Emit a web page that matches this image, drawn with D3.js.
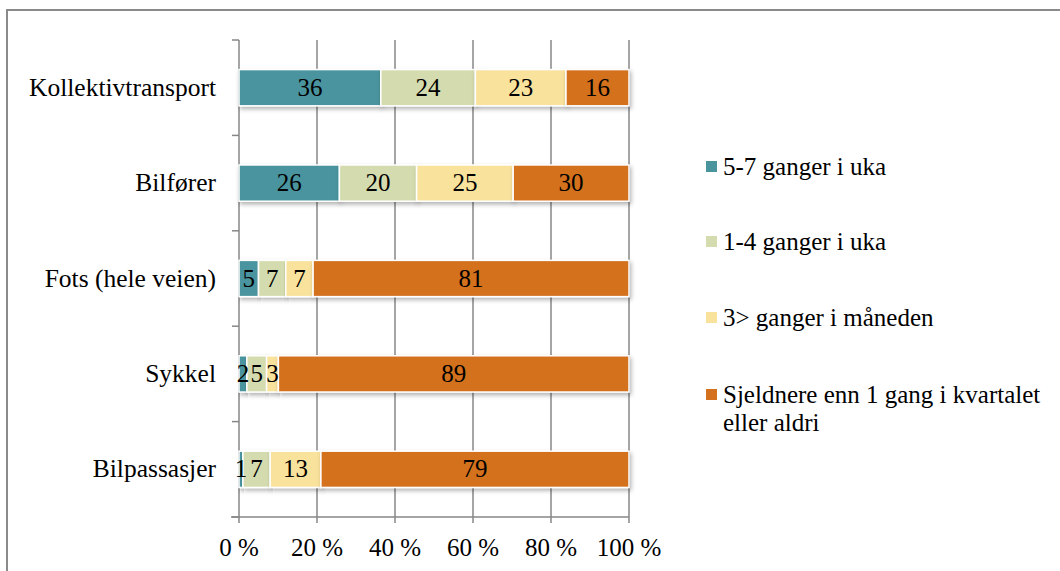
<html>
<head>
<meta charset="utf-8">
<script src="https://cdn.jsdelivr.net/npm/d3@7/dist/d3.min.js"></script>
</head>
<body style="margin:0">
<script>
// Reisevaner etter transportmiddel (prosentfordeling)
const categories = ["Kollektivtransport", "Bilfører", "Fots (hele veien)", "Sykkel", "Bilpassasjer"];
const seriesNames = ["5-7 ganger i uka", "1-4 ganger i uka", "3> ganger i måneden", "Sjeldnere enn 1 gang i kvartalet eller aldri"];
const legendLines = [["5-7 ganger i uka"], ["1-4 ganger i uka"], ["3> ganger i måneden"], ["Sjeldnere enn 1 gang i kvartalet", "eller aldri"]];
const s1 = [36, 26, 5, 2, 1];
const s2 = [24, 20, 7, 5, 7];
const s3 = [23, 25, 7, 3, 13];
const s4 = [16, 30, 81, 89, 79];
const tickValues = [0, 0.2, 0.4, 0.6, 0.8, 1];
const colors = ["#4a949e", "#d4dbae", "#f9e29c", "#d3711f"];

const W = 1060, H = 571;
const FONT = '"Liberation Serif"';
const margin = { left: 239, right: 431, top: 40, bottom: 54 };

const rows = categories.map((c, i) => ({ cat: c, s0: s1[i], s1: s2[i], s2: s3[i], s3: s4[i] }));
const keys = ["s0", "s1", "s2", "s3"];
const stacked = d3.stack().keys(keys).offset(d3.stackOffsetExpand)(rows);

const svg = d3.select("body").append("svg").attr("width", W).attr("height", H)
  .style("display", "block");

const defs = svg.append("defs");
const f = defs.append("filter").attr("id", "shadow").attr("x", "-5%").attr("y", "-30%").attr("width", "115%").attr("height", "180%");
f.append("feDropShadow").attr("dx", 1.5).attr("dy", 2.5).attr("stdDeviation", 2).attr("flood-color", "#000").attr("flood-opacity", 0.3);

// Outer frame (top and left edges)
svg.append("path").attr("d", `M7,${H} L7,10 L${W},10`).attr("fill", "none").attr("stroke", "#8a8a8a").attr("stroke-width", 2);

const x = d3.scaleLinear().domain([0, 1]).range([margin.left, W - margin.right]);
const y = d3.scaleBand().domain(categories).range([margin.top, H - margin.bottom]).paddingInner(0.62).paddingOuter(0.31);
const y0 = margin.top, yBottom = H - margin.bottom;
const gridColor = "#878787";

// Vertical gridlines with tick marks below the axis
svg.append("g").selectAll("line").data(tickValues.slice(1)).join("line")
  .attr("x1", d => x(d)).attr("x2", d => x(d))
  .attr("y1", y0).attr("y2", yBottom + 6)
  .attr("stroke", gridColor).attr("stroke-width", 1.5);

// Category axis
svg.append("line").attr("x1", x(0)).attr("x2", x(0)).attr("y1", y0).attr("y2", yBottom + 6)
  .attr("stroke", gridColor).attr("stroke-width", 1.5);
const bounds = d3.range(categories.length + 1).map(i => y0 + i * (yBottom - y0) / categories.length);
svg.append("g").selectAll("line").data(bounds).join("line")
  .attr("x1", x(0) - 7).attr("x2", x(0))
  .attr("y1", d => d).attr("y2", d => d)
  .attr("stroke", gridColor).attr("stroke-width", 1.5);

// Value axis line
svg.append("line").attr("x1", x(0) - 8).attr("x2", x(1)).attr("y1", yBottom).attr("y2", yBottom)
  .attr("stroke", gridColor).attr("stroke-width", 1.5);

// Bars
const layers = svg.append("g").selectAll("g").data(stacked).join("g")
  .attr("fill", (d, i) => colors[i]);
layers.selectAll("rect").data(d => d).join("rect")
  .attr("x", d => x(d[0]))
  .attr("width", d => x(d[1]) - x(d[0]))
  .attr("y", d => y(d.data.cat))
  .attr("height", y.bandwidth())
  .attr("stroke", "#fff").attr("stroke-width", 1.5)
  .attr("filter", "url(#shadow)");

// Segment value labels
svg.append("g").selectAll("g").data(stacked).join("g")
  .selectAll("text").data(d => d.map(p => ({ p, key: d.key }))).join("text")
  .attr("x", d => (x(d.p[0]) + x(d.p[1])) / 2)
  .attr("y", d => y(d.p.data.cat) + y.bandwidth() / 2 + 8)
  .attr("text-anchor", "middle")
  .attr("font-size", 25)
  .style("font-family", FONT)
  .text(d => d.p.data[d.key]);

// Category labels
svg.append("g").selectAll("text").data(categories).join("text")
  .attr("x", 216).attr("y", d => y(d) + y.bandwidth() / 2 + 8)
  .attr("text-anchor", "end").attr("font-size", 25.5)
  .style("font-family", FONT)
  .text(d => d);

// Tick labels
svg.append("g").selectAll("text").data(tickValues).join("text")
  .attr("x", d => x(d)).attr("y", 556)
  .attr("text-anchor", "middle").attr("font-size", 25)
  .style("font-family", FONT)
  .text(d => `${Math.round(d * 100)} %`);

// Legend
const legendY = [167, 242, 318, 395];
const lg = svg.append("g").selectAll("g").data(legendLines).join("g");
lg.append("rect").attr("x", 706).attr("y", (d, i) => legendY[i] - 6).attr("width", 11).attr("height", 11)
  .attr("fill", (d, i) => colors[i]);
lg.append("g").selectAll("text").data((d, i) => d.map((t, j) => ({ t, y: legendY[i] + j * 28 + 8 }))).join("text")
  .attr("x", 723).attr("y", d => d.y)
  .attr("font-size", 25)
  .style("font-family", FONT)
  .text(d => d.t);
</script>
</body>
</html>
